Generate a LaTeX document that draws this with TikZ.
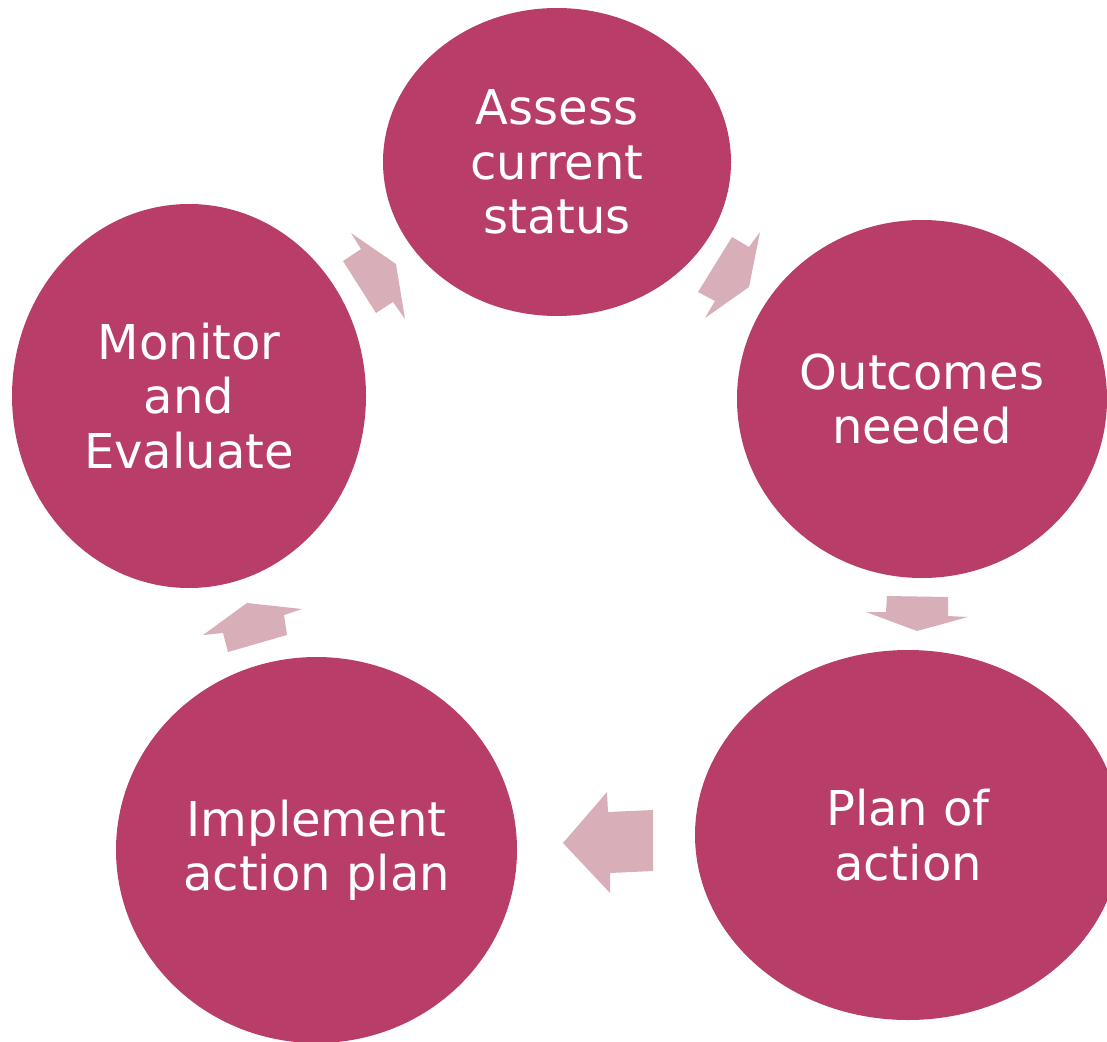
\documentclass[tikz,border=0pt]{standalone}
\usepackage{fontspec}
\setmainfont{DejaVu Sans}
\usetikzlibrary{shapes.geometric}
\definecolor{disc}{HTML}{B83D68}
\definecolor{blockarrow}{HTML}{D8AEB9}
\tikzset{
  stage/.style={ellipse, fill=disc, draw=none, inner sep=0pt, text=white, align=center,
    font=\fontsize{48}{54.5}\selectfont},
  barrow/.style={fill=blockarrow, draw=none}
}
\begin{document}
\begin{tikzpicture}[x=1pt,y=-1pt]
\useasboundingbox (0,0) rectangle (1107,1041);
\clip (0,0) rectangle (1107,1041);
\node[stage, minimum width=348pt, minimum height=308pt] (assess) at (557,162) {Assess\\current\\status};
\node[stage, minimum width=370pt, minimum height=358pt] (outcomes) at (922,399) {Outcomes\\needed};
\node[stage, minimum width=426pt, minimum height=370pt] (plan) at (908,835) {Plan of\\action};
\node[stage, minimum width=401pt, minimum height=386pt] (implement) at (316.5,850) {Implement\\action plan};
\node[stage, minimum width=354pt, minimum height=384pt] (monitor) at (189,396) {Monitor\\and\\Evaluate};
% block arrows between stages
\fill[barrow] (343,261) -- (361,249) -- (351,233) -- (396,264) -- (405,319) -- (393,302) -- (376,313) -- cycle;
\fill[barrow] (698,292) -- (715,301) -- (705,318) -- (749,287) -- (760,232) -- (749,247) -- (732,237) -- cycle;
\fill[barrow] (887,596) -- (948,597) -- (948,616) -- (968,617) -- (917,631) -- (866,612) -- (886,612) -- cycle;
\fill[barrow] (653,810) -- (608,812) -- (607,792) -- (563,843) -- (610,893) -- (610,873) -- (653,871) -- cycle;
\fill[barrow] (228,652) -- (287,635) -- (284,615) -- (302,609) -- (247,603) -- (203,635) -- (223,633) -- cycle;
\end{tikzpicture}
\end{document}
